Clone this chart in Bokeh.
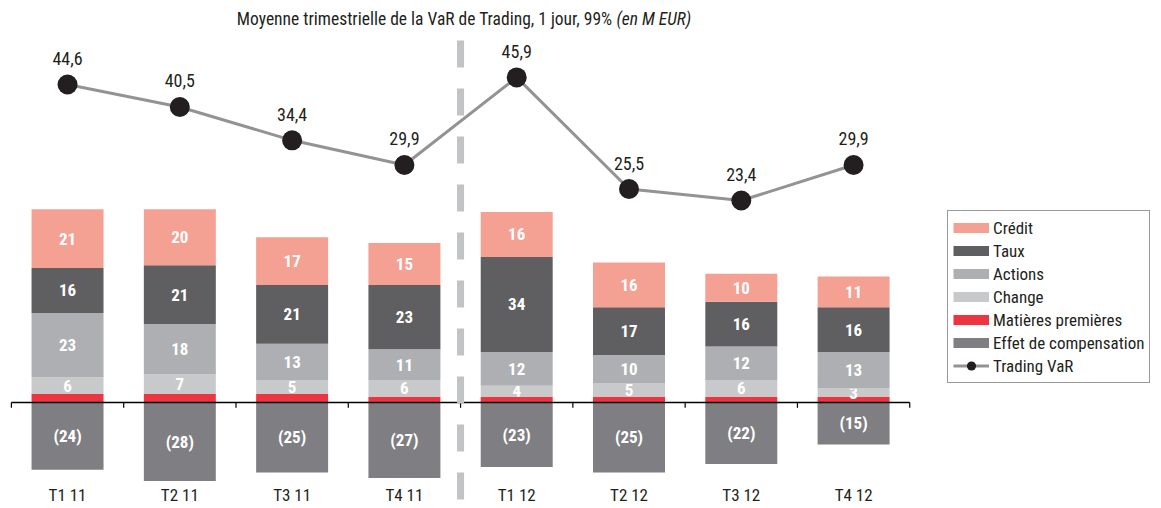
import numpy as np
from bokeh.plotting import figure
from bokeh.models import ColumnDataSource, Range1d, Legend, LegendItem, Label
from bokeh.core.properties import value
from bokeh.embed import file_html
from bokeh.resources import INLINE

# ---------------- data ----------------
quarters = ["T1 11", "T2 11", "T3 11", "T4 11", "T1 12", "T2 12", "T3 12", "T4 12"]
credit = [21, 20, 17, 15, 16, 16, 10, 11]
taux = [16, 21, 21, 23, 34, 17, 16, 16]
actions = [23, 18, 13, 11, 12, 10, 12, 13]
change = [6, 7, 5, 6, 4, 5, 6, 3]
matieres = [3, 3, 3, 2, 2, 2, 2, 2]
compensation = [-24, -28, -25, -27, -23, -25, -22, -15]
trading_var = [44.6, 40.5, 34.4, 29.9, 45.9, 25.5, 23.4, 29.9]

title_main = "Moyenne trimestrielle de la VaR de Trading, 1 jour, 99%"
title_unit = "(en M EUR)"

# ---------------- style ----------------
FONT = "Liberation Sans Narrow, Arial Narrow, Roboto Condensed, Roboto, sans-serif"
W, H = 1161, 508
TXT = "#231F20"
colors = {
    "Crédit": "#F4A092",
    "Taux": "#5F5F61",
    "Actions": "#AEAFB2",
    "Change": "#C8C9CB",
    "Matières premières": "#EE3440",
    "Effet de compensation": "#7F7F83",
}
BAR_W = 0.641

n = len(quarters)
x = np.arange(n)

p = figure(width=W, height=H, output_backend="svg", toolbar_location=None,
           x_range=Range1d(-0.597, 9.742), y_range=Range1d(-37.86, 143.57),
           x_axis_location=None, y_axis_location=None, min_border=0,
           outline_line_color=None, background_fill_color="white",
           border_fill_color="white")
p.grid.visible = False
p.extra_y_ranges = {"var": Range1d(-32.9, 59.96)}

legend_items = {}

# positive stack (bottom -> top)
pos_series = [
    ("Matières premières", matieres),
    ("Change", change),
    ("Actions", actions),
    ("Taux", taux),
    ("Crédit", credit),
]
bottom = np.zeros(n)
for name, vals in pos_series:
    vals = np.array(vals, dtype=float)
    top = bottom + vals
    src = ColumnDataSource(dict(x=x, bottom=bottom, top=top, mid=(bottom + top) / 2,
                                label=[str(int(v)) for v in vals]))
    p.vbar(x="x", bottom="bottom", top="top", width=BAR_W, source=src,
           fill_color=colors[name], line_color=None)
    if name != "Matières premières":
        p.text(x="x", y="mid", text="label", source=src, text_color="white",
               text_font=value(FONT), text_font_style="bold", text_font_size="17px",
               text_align="center", text_baseline="middle")
    proxy = p.line(x="x", y="top", source=src, line_color=colors[name],
                   line_width=10, visible=False)
    legend_items[name] = [proxy]
    bottom = top

# negative: compensation
comp = np.array(compensation, dtype=float)
csrc = ColumnDataSource(dict(x=x, bottom=np.zeros(n), top=comp, mid=comp / 2,
                             label=["(%d)" % abs(v) for v in compensation]))
p.vbar(x="x", bottom="bottom", top="top", width=BAR_W, source=csrc,
       fill_color=colors["Effet de compensation"], line_color=None)
p.text(x="x", y="mid", text="label", source=csrc, text_color="white",
       text_font=value(FONT), text_font_style="bold", text_font_size="17px",
       text_align="center", text_baseline="middle")
legend_items["Effet de compensation"] = [
    p.line(x="x", y="top", source=csrc, line_color=colors["Effet de compensation"],
           line_width=10, visible=False)]

# zero axis line and ticks between categories
edges = np.arange(n + 1) - 0.5
p.segment(x0=[edges[0]], x1=[edges[-1]], y0=[0], y1=[0], line_color="black", line_width=1.3)
p.segment(x0=edges, x1=edges, y0=np.zeros(n + 1), y1=np.full(n + 1, -1.9),
          line_color="black", line_width=1.2)

# year divider
split = next(i for i, q in enumerate(quarters) if q.endswith("12")) - 0.5
p.segment(x0=[split], x1=[split], y0=[129.3], y1=[p.y_range.start],
          line_color="#C2C3C6", line_width=7, line_dash="27 21")

# category labels
p.text(x=x, y=np.full(n, -33.2), text=quarters, text_color=TXT,
       text_font=value(FONT), text_font_size="17px",
       text_align="center", text_baseline="middle")

# Trading VaR line
vsrc = ColumnDataSource(dict(x=x, var=trading_var,
                             label=[("%.1f" % v).replace(".", ",") for v in trading_var]))
vl = p.line(x="x", y="var", source=vsrc, y_range_name="var",
            line_color="#939393", line_width=3)
vs = p.scatter(x="x", y="var", source=vsrc, y_range_name="var", size=20,
               fill_color=TXT, line_color=None)
p.text(x="x", y="var", text="label", source=vsrc, y_range_name="var",
       y_offset=-26, text_color=TXT, text_font=value(FONT), text_font_size="18px",
       text_align="center", text_baseline="middle")
legend_items["Trading VaR"] = [vl, vs]

order = ["Crédit", "Taux", "Actions", "Change", "Matières premières",
         "Effet de compensation", "Trading VaR"]
legend = Legend(items=[LegendItem(label=k, renderers=legend_items[k]) for k in order],
                location=(947, 125), orientation="vertical",
                glyph_width=36, glyph_height=23, label_height=20, spacing=0,
                padding=5, margin=0, label_standoff=4,
                border_line_color="#333333", border_line_width=1,
                background_fill_color="white", background_fill_alpha=1,
                label_text_font=FONT, label_text_font_size="17px",
                label_text_color=TXT)
p.add_layout(legend)

# title
p.add_layout(Label(x=612, y=H - 18, x_units="screen", y_units="screen",
                   text=title_main, text_align="right", text_baseline="middle",
                   text_font=FONT, text_font_size="17.5px", text_color=TXT))
p.add_layout(Label(x=616, y=H - 18, x_units="screen", y_units="screen",
                   text=title_unit, text_align="left", text_baseline="middle",
                   text_font=FONT, text_font_size="17.5px", text_font_style="italic",
                   text_color=TXT))

open("out.html", "w").write(file_html(p, INLINE))
